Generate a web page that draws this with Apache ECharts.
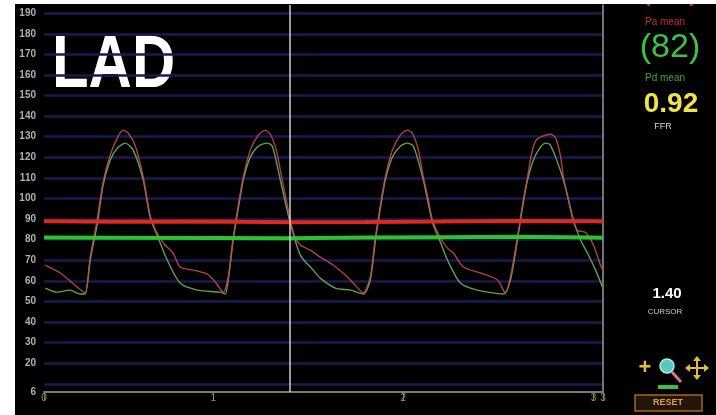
<!DOCTYPE html>
<html>
<head>
<meta charset="utf-8">
<script src="https://cdn.jsdelivr.net/npm/echarts@6/dist/echarts.min.js"></script>
<style>
  html, body { margin: 0; padding: 0; background: #fff; }
  #chart { position: absolute; left: 15px; top: 4px; width: 701px; height: 411px; }
</style>
</head>
<body>
<div id="chart"></div>
<script>
// pressure traces, [time s, mmHg]
var paTrace = [[0.116,67.6],[0.195,63.8],[0.284,57.0],[0.326,54.1],[0.353,71.5],[0.389,89.4],[0.421,108],[0.458,121.0],[0.495,129.3],[0.526,133.2],[0.553,131.7],[0.589,125.9],[0.632,110.4],[0.668,91.8],[0.705,83.1],[0.747,77.4],[0.789,73.5],[0.826,66.7],[0.895,65.2],[0.968,63.3],[1.011,59.4],[1.053,54.5],[1.079,61.8],[1.105,81.1],[1.132,96.7],[1.158,110.4],[1.195,123.5],[1.237,130.8],[1.274,133.2],[1.300,131.2],[1.332,123.5],[1.353,113.8],[1.395,94.3],[1.426,82.1],[1.458,77.4],[1.511,74.9],[1.563,71.5],[1.632,67.6],[1.695,62.8],[1.747,57.9],[1.789,54.1],[1.826,61.8],[1.853,81.1],[1.879,96.7],[1.905,110.4],[1.942,123.5],[1.984,130.8],[2.021,133.2],[2.047,131.7],[2.079,123.5],[2.105,110.4],[2.132,99.2],[2.153,89.4],[2.195,80.8],[2.232,75.9],[2.263,73.5],[2.316,66.7],[2.405,63.8],[2.495,60.4],[2.537,54.1],[2.563,61.8],[2.600,81.1],[2.626,96.7],[2.653,110.4],[2.674,121.5],[2.695,127.8],[2.721,129.8],[2.774,131.2],[2.800,129.5],[2.826,121.0],[2.842,110.4],[2.868,99.2],[2.895,88.4],[2.916,84.5],[2.958,83.5],[3.000,77.4],[3.037,67.6],[3.050,65.2]];
var pdTrace = [[0.116,56.5],[0.179,54.5],[0.247,55.5],[0.300,53.6],[0.326,53.6],[0.353,70.1],[0.389,87.0],[0.421,106.5],[0.458,118.6],[0.495,124.4],[0.537,126.9],[0.579,123.5],[0.632,109.0],[0.668,90.9],[0.705,82.1],[0.758,70.1],[0.826,58.9],[0.916,55.5],[1.037,54.5],[1.063,53.6],[1.079,60.4],[1.105,79.8],[1.132,95.2],[1.158,109.0],[1.195,120.1],[1.237,125.4],[1.284,126.9],[1.311,125.4],[1.353,109.0],[1.395,91.8],[1.458,72.5],[1.526,65.2],[1.563,61.3],[1.642,56.5],[1.721,55.5],[1.789,53.6],[1.826,60.4],[1.853,79.8],[1.879,95.2],[1.905,109.0],[1.942,120.1],[1.984,125.4],[2.021,126.9],[2.053,125.4],[2.105,109.0],[2.153,88.4],[2.195,78.8],[2.232,70.1],[2.300,58.9],[2.389,55.5],[2.526,53.6],[2.563,60.4],[2.600,79.8],[2.626,95.2],[2.653,109.0],[2.695,121.0],[2.747,126.9],[2.774,125.9],[2.842,109.0],[2.895,89.4],[2.932,79.8],[2.968,73.5],[3.011,65.2],[3.047,57.0]];

var meanTimes = [0.11, 0.5, 1.0, 1.4, 1.8, 2.2, 2.6, 3.0, 3.05];
var paMean = [88.9, 88.7, 88.8, 88.5, 88.6, 88.8, 89.1, 88.9, 88.8];
var pdMean = [81.0, 80.9, 80.8, 80.7, 81.0, 81.2, 81.4, 81.0, 80.9];

var yGridValues = [10, 20, 30, 40, 50, 60, 70, 80, 90, 100, 110, 120, 130, 140, 150, 160, 170, 180, 190];
var yLabelValues = [6, 20, 30, 40, 50, 60, 70, 80, 90, 100, 110, 120, 130, 140, 150, 160, 170, 180, 190];
var xTickValues = [0.11, 1, 2, 3, 3.05];
var xTickLabels = ['0', '1', '2', '3', '3'];

var cursorTime = 1.40;
var paMeanText = '(89)';
var pdMeanText = '(82)';
var ffrText = '0.92';

function zipMean(vals) {
    return meanTimes.map(function (t, i) { return [t, vals[i]]; });
}

var chart = echarts.init(document.getElementById('chart'));
var gold = '#e2bb3c';

chart.setOption({
    animation: false,
    backgroundColor: '#000',
    grid: { left: 29, right: 113, top: 1, bottom: 23 },
    xAxis: {
        type: 'value', min: 0.11, max: 3.05,
        axisLine: { show: true, lineStyle: { color: '#7a7a7a', width: 2 } },
        axisTick: { show: true, length: 9, customValues: xTickValues, lineStyle: { color: '#777', width: 1 } },
        axisLabel: {
            customValues: xTickValues, color: '#98925e', fontSize: 10, margin: 1,
            fontFamily: 'Liberation Sans Narrow, Liberation Sans',
            formatter: function (v) {
                var i = xTickValues.indexOf(v);
                return i >= 0 ? xTickLabels[i] : '';
            }
        },
        splitLine: { show: false }
    },
    yAxis: [{
        type: 'value', min: 6, max: 194,
        axisLine: { show: false },
        axisTick: { show: false, customValues: yGridValues },
        axisLabel: {
            customValues: yLabelValues, color: '#b0b0b0', fontSize: 10, fontWeight: 'bold', margin: 8,
            fontFamily: 'Liberation Sans Narrow, Liberation Sans'
        },
        splitLine: { show: true, lineStyle: { color: '#1a1a52', width: 2.5 } }
    }, {
        type: 'value', min: 6, max: 194, position: 'right',
        axisLine: { show: true, lineStyle: { color: '#9a9a9a', width: 1.5 } },
        axisTick: { show: false }, axisLabel: { show: false }, splitLine: { show: false }
    }],
    series: [
        {
            type: 'line', name: 'Pd', data: pdTrace, showSymbol: false, smooth: 0.25,
            lineStyle: { color: '#62a04e', width: 1.4 }, z: 2
        },
        {
            type: 'line', name: 'Pa', data: paTrace, showSymbol: false, smooth: 0.25,
            lineStyle: { color: '#c04a4e', width: 1.4, opacity: 0.9 }, z: 3,
            markLine: {
                silent: true, symbol: ['none', 'none'], label: { show: false },
                lineStyle: { color: '#cfcfcf', width: 1.5, type: 'solid' },
                data: [{ xAxis: cursorTime }]
            }
        },
        {
            type: 'line', name: 'Pa mean', data: zipMean(paMean), showSymbol: false,
            lineStyle: { color: '#dc2a1e', width: 4 }, z: 4
        },
        {
            type: 'line', name: 'Pd mean', data: zipMean(pdMean), showSymbol: false,
            lineStyle: { color: '#2cc42c', width: 4 }, z: 4
        }
    ],
    graphic: [
        { type: 'text', x: 37, y: 63, scaleX: 0.81, style: { text: 'LAD', fill: '#fff', font: 'bold 74px "Liberation Sans"', textVerticalAlign: 'middle' } },
        { type: 'text', x: 655, y: -14, style: { text: paMeanText, fill: '#c83030', font: '34px "Liberation Sans"', textAlign: 'center', textVerticalAlign: 'middle' } },
        { type: 'text', x: 650, y: 18, style: { text: 'Pa mean', fill: '#c0302c', font: '10px "Liberation Sans"', textAlign: 'center', textVerticalAlign: 'middle' } },
        { type: 'text', x: 655, y: 44, style: { text: pdMeanText, fill: '#3cc04a', font: '34px "Liberation Sans"', textAlign: 'center', textVerticalAlign: 'middle' } },
        { type: 'text', x: 650, y: 74, style: { text: 'Pd mean', fill: '#3aa848', font: '10px "Liberation Sans"', textAlign: 'center', textVerticalAlign: 'middle' } },
        { type: 'text', x: 656, y: 100, style: { text: ffrText, fill: '#f0e24a', font: 'bold 28px "Liberation Sans"', textAlign: 'center', textVerticalAlign: 'middle' } },
        { type: 'text', x: 648, y: 123, style: { text: 'FFR', fill: '#d8d8d8', font: '9px "Liberation Sans"', textAlign: 'center', textVerticalAlign: 'middle' } },
        { type: 'text', x: 652, y: 290, style: { text: cursorTime.toFixed(2), fill: '#fff', font: 'bold 15px "Liberation Sans"', textAlign: 'center', textVerticalAlign: 'middle' } },
        { type: 'text', x: 650, y: 308, style: { text: 'CURSOR', fill: '#cccccc', font: '8px "Liberation Sans"', textAlign: 'center', textVerticalAlign: 'middle' } },
        // zoom / pan tools
        { type: 'text', x: 630, y: 364, style: { text: '+', fill: gold, font: 'bold 22px "Liberation Sans"', textAlign: 'center', textVerticalAlign: 'middle' } },
        { type: 'line', shape: { x1: 657, y1: 368, x2: 666, y2: 378 }, style: { stroke: '#d07890', lineWidth: 3 } },
        { type: 'circle', shape: { cx: 652, cy: 362, r: 7 }, style: { fill: '#5ac8c0', stroke: '#a8f0e8', lineWidth: 1.5 } },
        { type: 'rect', shape: { x: 643, y: 381, width: 20, height: 4 }, style: { fill: '#40c040' } },
        { type: 'line', shape: { x1: 672, y1: 364, x2: 692, y2: 364 }, style: { stroke: gold, lineWidth: 2 } },
        { type: 'line', shape: { x1: 682, y1: 354, x2: 682, y2: 374 }, style: { stroke: gold, lineWidth: 2 } },
        { type: 'polygon', shape: { points: [[682, 352], [678, 357], [686, 357]] }, style: { fill: gold } },
        { type: 'polygon', shape: { points: [[682, 376], [678, 371], [686, 371]] }, style: { fill: gold } },
        { type: 'polygon', shape: { points: [[670, 364], [675, 360], [675, 368]] }, style: { fill: gold } },
        { type: 'polygon', shape: { points: [[694, 364], [689, 360], [689, 368]] }, style: { fill: gold } },
        { type: 'rect', shape: { x: 620, y: 391, width: 67, height: 16 }, style: { fill: '#24160a', stroke: '#a06a20', lineWidth: 1.5 } },
        { type: 'text', x: 653, y: 399, style: { text: 'RESET', fill: '#d8a040', font: 'bold 9px "Liberation Sans"', textAlign: 'center', textVerticalAlign: 'middle' } }
    ]
});
</script>
</body>
</html>
